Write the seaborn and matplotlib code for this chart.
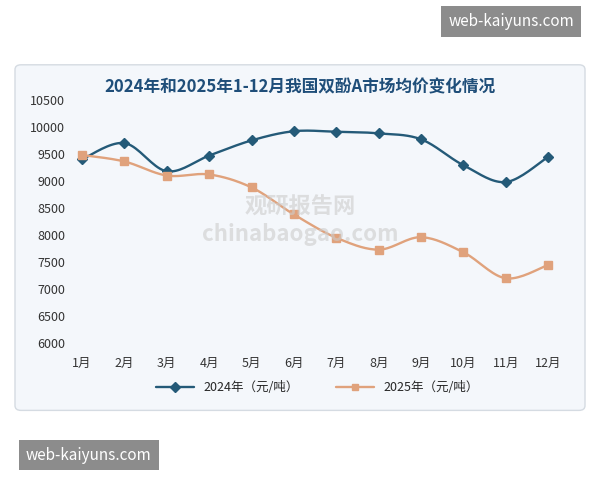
import numpy as np
import matplotlib
matplotlib.use("Agg")
import matplotlib.pyplot as plt
import seaborn as sns
from matplotlib.patches import FancyBboxPatch

months = ["1月", "2月", "3月", "4月", "5月", "6月", "7月", "8月", "9月", "10月", "11月", "12月"]
price_2024 = [9400, 9700, 9180, 9470, 9750, 9920, 9910, 9880, 9770, 9290, 8980, 9450]
price_2025 = [9480, 9360, 9100, 9120, 8880, 8380, 7950, 7730, 7960, 7680, 7200, 7450]

sns.set_style("white")
plt.rcParams['font.family'] = ['Noto Sans CJK SC', 'DejaVu Sans']

c24 = "#245a78"
c25 = "#e0a27c"


def smooth(y, n=20):
    # catmull-rom curve through the points, only for the line look
    x = np.arange(len(y), dtype=float)
    y = np.asarray(y, dtype=float)
    px = np.concatenate([[x[0]], x, [x[-1]]])
    py = np.concatenate([[y[0]], y, [y[-1]]])
    xs, ys = [], []
    t = np.linspace(0, 1, n)
    for i in range(1, len(px) - 2):
        for p, out in ((px, xs), (py, ys)):
            p0, p1, p2, p3 = p[i - 1], p[i], p[i + 1], p[i + 2]
            out.extend(0.5 * (2 * p1 + (-p0 + p2) * t + (2 * p0 - 5 * p1 + 4 * p2 - p3) * t ** 2
                              + (-p0 + 3 * p1 - 3 * p2 + p3) * t ** 3))
    return np.array(xs), np.array(ys)


fig = plt.figure(figsize=(6, 4.8), dpi=100)
fig.patch.set_facecolor("white")
frame = FancyBboxPatch((0.025, 0.145), 0.95, 0.72, boxstyle="round,pad=0,rounding_size=0.01",
                       transform=fig.transFigure, facecolor="#f4f7fb", edgecolor="#d5dbe2", lw=1,
                       zorder=-10)
fig.patches.append(frame)

ax = fig.add_axes([0.117, 0.285, 0.825, 0.507])
ax.set_zorder(5)
ax.set_facecolor("#f4f7fb")
x = np.arange(len(months))
for vals, col, mk, lab in ((price_2024, c24, "D", "2024年（元/吨）"), (price_2025, c25, "s", "2025年（元/吨）")):
    sx, sy = smooth(vals)
    sns.lineplot(x=sx, y=sy, ax=ax, color=col, lw=1.7, sort=False, estimator=None)
    ax.plot(x, vals, linestyle="none", marker=mk, color=col, ms=5.5 if mk == "D" else 6)
    ax.plot([], [], color=col, marker=mk, lw=1.7, ms=5, label=lab)

ax.set_ylim(6000, 10500)
ax.set_yticks(range(6000, 10501, 500))
ax.set_xlim(-0.28, 11.4)
ax.set_xticks(x)
ax.set_xticklabels(months)
ax.tick_params(labelsize=9, colors="#333333", length=0)
ax.tick_params(axis="x", pad=10)
for s in ax.spines.values():
    s.set_visible(False)
ax.set_xlabel("")
ax.set_ylabel("")
ax.legend(loc="upper center", bbox_to_anchor=(0.5, -0.11), ncol=2, frameon=False, fontsize=9,
          handlelength=3, columnspacing=3)

fig.text(0.5, 0.818, "2024年和2025年1-12月我国双酚A市场均价变化情况", ha="center", va="center",
         fontsize=12, fontweight="bold", color="#1f4e79")
fig.text(0.5, 0.54, "观研报告网\nchinabaogao.com", ha="center", va="center", fontsize=16,
         color="#cccccc", alpha=0.6, fontweight="bold", zorder=10)
fig.text(0.852, 0.955, "web-kaiyuns.com", ha="center", va="center", fontsize=11, color="white",
         bbox=dict(facecolor="#8c8c8c", edgecolor="none", pad=5))
fig.text(0.148, 0.052, "web-kaiyuns.com", ha="center", va="center", fontsize=11, color="white",
         bbox=dict(facecolor="#8c8c8c", edgecolor="none", pad=5))

fig.savefig("out.png", dpi=100)
